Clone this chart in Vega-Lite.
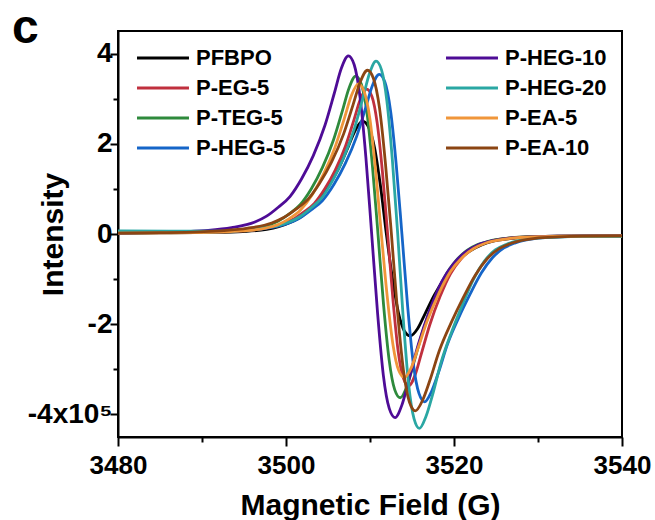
{
  "$schema": "https://vega.github.io/schema/vega-lite/v6.json",
  "autosize": {"type": "none"},
  "padding": {"left": 118, "top": 31, "right": 33, "bottom": 83},
  "width": 504,
  "height": 406,
  "background": "white",
  "title": {"text": "c", "anchor": "start", "frame": "group", "dx": -106, "dy": 60, "offset": 0, "baseline": "alphabetic", "fontSize": 48, "font": "Liberation Sans", "fontWeight": "bold", "color": "black"},
  "config": {
    "view": {"stroke": "black", "strokeWidth": 2},
    "axis": {"grid": false, "domainColor": "black", "domainWidth": 2, "tickColor": "black", "tickWidth": 2, "labelFont": "Liberation Sans", "labelFontWeight": "bold", "labelFontSize": 26, "labelColor": "black", "titleFont": "Liberation Sans", "titleFontWeight": "bold", "titleFontSize": 30, "titleColor": "black", "labelOverlap": false, "labelFlush": false, "labelBound": false}
  },
  "data": {"values": [
    {"s":"PFBPO","x":3480,"y":0.02},{"s":"PFBPO","x":3485,"y":0.025},{"s":"PFBPO","x":3489.15,"y":0.03},{"s":"PFBPO","x":3491.0,"y":0.035},{"s":"PFBPO","x":3494.85,"y":0.055},{"s":"PFBPO","x":3497.7,"y":0.10},{"s":"PFBPO","x":3499.13,"y":0.16},{"s":"PFBPO","x":3500.55,"y":0.26},{"s":"PFBPO","x":3501.98,"y":0.40},{"s":"PFBPO","x":3503.4,"y":0.65},{"s":"PFBPO","x":3504.83,"y":1.00},{"s":"PFBPO","x":3506.25,"y":1.45},{"s":"PFBPO","x":3507.39,"y":1.925},{"s":"PFBPO","x":3508.25,"y":2.30},{"s":"PFBPO","x":3509.1,"y":2.50},{"s":"PFBPO","x":3509.81,"y":2.375},{"s":"PFBPO","x":3510.53,"y":1.925},{"s":"PFBPO","x":3511.24,"y":1.075},{"s":"PFBPO","x":3511.95,"y":0},{"s":"PFBPO","x":3512.66,"y":-0.97},{"s":"PFBPO","x":3513.38,"y":-1.74},{"s":"PFBPO","x":3514.09,"y":-2.15},{"s":"PFBPO","x":3514.8,"y":-2.26},{"s":"PFBPO","x":3515.66,"y":-2.10},{"s":"PFBPO","x":3516.51,"y":-1.785},{"s":"PFBPO","x":3517.65,"y":-1.356},{"s":"PFBPO","x":3519.08,"y":-0.927},{"s":"PFBPO","x":3520.5,"y":-0.588},{"s":"PFBPO","x":3521.93,"y":-0.372},{"s":"PFBPO","x":3523.35,"y":-0.235},{"s":"PFBPO","x":3524.78,"y":-0.154},{"s":"PFBPO","x":3526.2,"y":-0.112},{"s":"PFBPO","x":3529.05,"y":-0.067},{"s":"PFBPO","x":3531.9,"y":-0.051},{"s":"PFBPO","x":3534.75,"y":-0.045},{"s":"PFBPO","x":3540,"y":-0.04},
    {"s":"P-EG-5","x":3480,"y":0.02},{"s":"P-EG-5","x":3486,"y":0.03},{"s":"P-EG-5","x":3492.1,"y":0.046},{"s":"P-EG-5","x":3494.6,"y":0.068},{"s":"P-EG-5","x":3497.1,"y":0.116},{"s":"P-EG-5","x":3499.6,"y":0.22},{"s":"P-EG-5","x":3500.85,"y":0.325},{"s":"P-EG-5","x":3502.1,"y":0.485},{"s":"P-EG-5","x":3503.35,"y":0.674},{"s":"P-EG-5","x":3504.6,"y":0.995},{"s":"P-EG-5","x":3505.85,"y":1.412},{"s":"P-EG-5","x":3507.1,"y":1.958},{"s":"P-EG-5","x":3508.1,"y":2.536},{"s":"P-EG-5","x":3508.85,"y":2.985},{"s":"P-EG-5","x":3509.6,"y":3.21},{"s":"P-EG-5","x":3510.23,"y":3.05},{"s":"P-EG-5","x":3510.85,"y":2.47},{"s":"P-EG-5","x":3511.48,"y":1.38},{"s":"P-EG-5","x":3512.1,"y":0},{"s":"P-EG-5","x":3512.73,"y":-1.449},{"s":"P-EG-5","x":3513.35,"y":-2.595},{"s":"P-EG-5","x":3513.98,"y":-3.20},{"s":"P-EG-5","x":3514.6,"y":-3.37},{"s":"P-EG-5","x":3515.35,"y":-3.134},{"s":"P-EG-5","x":3516.1,"y":-2.662},{"s":"P-EG-5","x":3517.1,"y":-2.022},{"s":"P-EG-5","x":3518.35,"y":-1.382},{"s":"P-EG-5","x":3519.6,"y":-0.876},{"s":"P-EG-5","x":3520.85,"y":-0.549},{"s":"P-EG-5","x":3522.1,"y":-0.34},{"s":"P-EG-5","x":3523.35,"y":-0.215},{"s":"P-EG-5","x":3524.6,"y":-0.148},{"s":"P-EG-5","x":3527.1,"y":-0.08},{"s":"P-EG-5","x":3529.6,"y":-0.057},{"s":"P-EG-5","x":3532.1,"y":-0.047},{"s":"P-EG-5","x":3540,"y":-0.04},
    {"s":"P-TEG-5","x":3480,"y":0.02},{"s":"P-TEG-5","x":3485,"y":0.03},{"s":"P-TEG-5","x":3489.75,"y":0.038},{"s":"P-TEG-5","x":3492.4,"y":0.055},{"s":"P-TEG-5","x":3495.05,"y":0.097},{"s":"P-TEG-5","x":3497.7,"y":0.185},{"s":"P-TEG-5","x":3499.03,"y":0.283},{"s":"P-TEG-5","x":3500.35,"y":0.44},{"s":"P-TEG-5","x":3501.68,"y":0.648},{"s":"P-TEG-5","x":3503.0,"y":0.998},{"s":"P-TEG-5","x":3504.33,"y":1.47},{"s":"P-TEG-5","x":3505.65,"y":2.083},{"s":"P-TEG-5","x":3506.71,"y":2.73},{"s":"P-TEG-5","x":3507.51,"y":3.238},{"s":"P-TEG-5","x":3508.3,"y":3.50},{"s":"P-TEG-5","x":3508.96,"y":3.325},{"s":"P-TEG-5","x":3509.63,"y":2.695},{"s":"P-TEG-5","x":3510.29,"y":1.505},{"s":"P-TEG-5","x":3510.95,"y":0},{"s":"P-TEG-5","x":3511.61,"y":-1.561},{"s":"P-TEG-5","x":3512.28,"y":-2.795},{"s":"P-TEG-5","x":3512.94,"y":-3.449},{"s":"P-TEG-5","x":3513.6,"y":-3.63},{"s":"P-TEG-5","x":3514.4,"y":-3.376},{"s":"P-TEG-5","x":3515.19,"y":-2.868},{"s":"P-TEG-5","x":3516.25,"y":-2.178},{"s":"P-TEG-5","x":3517.58,"y":-1.488},{"s":"P-TEG-5","x":3518.9,"y":-0.944},{"s":"P-TEG-5","x":3520.23,"y":-0.591},{"s":"P-TEG-5","x":3521.55,"y":-0.365},{"s":"P-TEG-5","x":3522.88,"y":-0.23},{"s":"P-TEG-5","x":3524.2,"y":-0.156},{"s":"P-TEG-5","x":3526.85,"y":-0.084},{"s":"P-TEG-5","x":3529.5,"y":-0.058},{"s":"P-TEG-5","x":3532.15,"y":-0.047},{"s":"P-TEG-5","x":3540,"y":-0.04},
    {"s":"P-HEG-5","x":3480,"y":0.02},{"s":"P-HEG-5","x":3486,"y":0.035},{"s":"P-HEG-5","x":3492.2,"y":0.048},{"s":"P-HEG-5","x":3494.9,"y":0.073},{"s":"P-HEG-5","x":3497.6,"y":0.126},{"s":"P-HEG-5","x":3500.3,"y":0.24},{"s":"P-HEG-5","x":3501.65,"y":0.356},{"s":"P-HEG-5","x":3503.0,"y":0.533},{"s":"P-HEG-5","x":3504.35,"y":0.743},{"s":"P-HEG-5","x":3505.7,"y":1.097},{"s":"P-HEG-5","x":3507.05,"y":1.558},{"s":"P-HEG-5","x":3508.4,"y":2.159},{"s":"P-HEG-5","x":3509.48,"y":2.797},{"s":"P-HEG-5","x":3510.29,"y":3.292},{"s":"P-HEG-5","x":3511.1,"y":3.54},{"s":"P-HEG-5","x":3511.78,"y":3.363},{"s":"P-HEG-5","x":3512.45,"y":2.726},{"s":"P-HEG-5","x":3513.13,"y":1.522},{"s":"P-HEG-5","x":3513.8,"y":0},{"s":"P-HEG-5","x":3514.48,"y":-1.60},{"s":"P-HEG-5","x":3515.15,"y":-2.864},{"s":"P-HEG-5","x":3515.83,"y":-3.534},{"s":"P-HEG-5","x":3516.5,"y":-3.72},{"s":"P-HEG-5","x":3517.31,"y":-3.497},{"s":"P-HEG-5","x":3518.12,"y":-3.088},{"s":"P-HEG-5","x":3519.2,"y":-2.455},{"s":"P-HEG-5","x":3520.55,"y":-1.86},{"s":"P-HEG-5","x":3521.9,"y":-1.339},{"s":"P-HEG-5","x":3523.25,"y":-0.866},{"s":"P-HEG-5","x":3524.6,"y":-0.522},{"s":"P-HEG-5","x":3525.95,"y":-0.309},{"s":"P-HEG-5","x":3527.3,"y":-0.196},{"s":"P-HEG-5","x":3530.0,"y":-0.092},{"s":"P-HEG-5","x":3532.7,"y":-0.062},{"s":"P-HEG-5","x":3535.4,"y":-0.047},{"s":"P-HEG-5","x":3540,"y":-0.045},
    {"s":"P-HEG-10","x":3480,"y":0.02},{"s":"P-HEG-10","x":3484,"y":0.035},{"s":"P-HEG-10","x":3487.96,"y":0.052},{"s":"P-HEG-10","x":3490.74,"y":0.079},{"s":"P-HEG-10","x":3493.52,"y":0.139},{"s":"P-HEG-10","x":3496.3,"y":0.265},{"s":"P-HEG-10","x":3497.69,"y":0.395},{"s":"P-HEG-10","x":3499.08,"y":0.593},{"s":"P-HEG-10","x":3500.47,"y":0.83},{"s":"P-HEG-10","x":3501.86,"y":1.225},{"s":"P-HEG-10","x":3503.25,"y":1.738},{"s":"P-HEG-10","x":3504.64,"y":2.41},{"s":"P-HEG-10","x":3505.75,"y":3.12},{"s":"P-HEG-10","x":3506.59,"y":3.674},{"s":"P-HEG-10","x":3507.42,"y":3.95},{"s":"P-HEG-10","x":3508.12,"y":3.753},{"s":"P-HEG-10","x":3508.81,"y":3.04},{"s":"P-HEG-10","x":3509.51,"y":1.70},{"s":"P-HEG-10","x":3510.2,"y":0},{"s":"P-HEG-10","x":3510.9,"y":-1.75},{"s":"P-HEG-10","x":3511.59,"y":-3.134},{"s":"P-HEG-10","x":3512.29,"y":-3.867},{"s":"P-HEG-10","x":3512.98,"y":-4.07},{"s":"P-HEG-10","x":3513.81,"y":-3.785},{"s":"P-HEG-10","x":3514.65,"y":-3.215},{"s":"P-HEG-10","x":3515.76,"y":-2.442},{"s":"P-HEG-10","x":3517.15,"y":-1.669},{"s":"P-HEG-10","x":3518.54,"y":-1.058},{"s":"P-HEG-10","x":3519.93,"y":-0.661},{"s":"P-HEG-10","x":3521.32,"y":-0.407},{"s":"P-HEG-10","x":3522.71,"y":-0.254},{"s":"P-HEG-10","x":3524.1,"y":-0.17},{"s":"P-HEG-10","x":3526.88,"y":-0.089},{"s":"P-HEG-10","x":3529.66,"y":-0.06},{"s":"P-HEG-10","x":3532.44,"y":-0.048},{"s":"P-HEG-10","x":3540,"y":-0.04},
    {"s":"P-HEG-20","x":3480,"y":0.07},{"s":"P-HEG-20","x":3486,"y":0.065},{"s":"P-HEG-20","x":3492.66,"y":0.061},{"s":"P-HEG-20","x":3495.24,"y":0.087},{"s":"P-HEG-20","x":3497.82,"y":0.145},{"s":"P-HEG-20","x":3500.4,"y":0.267},{"s":"P-HEG-20","x":3501.69,"y":0.389},{"s":"P-HEG-20","x":3502.98,"y":0.575},{"s":"P-HEG-20","x":3504.27,"y":0.804},{"s":"P-HEG-20","x":3505.56,"y":1.187},{"s":"P-HEG-20","x":3506.85,"y":1.685},{"s":"P-HEG-20","x":3508.14,"y":2.336},{"s":"P-HEG-20","x":3509.17,"y":3.026},{"s":"P-HEG-20","x":3509.95,"y":3.562},{"s":"P-HEG-20","x":3510.72,"y":3.83},{"s":"P-HEG-20","x":3511.37,"y":3.639},{"s":"P-HEG-20","x":3512.01,"y":2.949},{"s":"P-HEG-20","x":3512.66,"y":1.647},{"s":"P-HEG-20","x":3513.3,"y":0},{"s":"P-HEG-20","x":3513.95,"y":-1.853},{"s":"P-HEG-20","x":3514.59,"y":-3.319},{"s":"P-HEG-20","x":3515.24,"y":-4.095},{"s":"P-HEG-20","x":3515.88,"y":-4.31},{"s":"P-HEG-20","x":3516.65,"y":-4.051},{"s":"P-HEG-20","x":3517.43,"y":-3.577},{"s":"P-HEG-20","x":3518.46,"y":-2.845},{"s":"P-HEG-20","x":3519.75,"y":-2.155},{"s":"P-HEG-20","x":3521.04,"y":-1.552},{"s":"P-HEG-20","x":3522.33,"y":-1.001},{"s":"P-HEG-20","x":3523.62,"y":-0.602},{"s":"P-HEG-20","x":3524.91,"y":-0.353},{"s":"P-HEG-20","x":3526.2,"y":-0.231},{"s":"P-HEG-20","x":3528.78,"y":-0.11},{"s":"P-HEG-20","x":3531.36,"y":-0.076},{"s":"P-HEG-20","x":3533.94,"y":-0.06},{"s":"P-HEG-20","x":3540,"y":-0.06},
    {"s":"P-EA-5","x":3480,"y":0.02},{"s":"P-EA-5","x":3485,"y":0.025},{"s":"P-EA-5","x":3489.35,"y":0.03},{"s":"P-EA-5","x":3492.1,"y":0.04},{"s":"P-EA-5","x":3494.85,"y":0.067},{"s":"P-EA-5","x":3497.6,"y":0.13},{"s":"P-EA-5","x":3498.98,"y":0.203},{"s":"P-EA-5","x":3500.35,"y":0.336},{"s":"P-EA-5","x":3501.73,"y":0.533},{"s":"P-EA-5","x":3503.1,"y":0.866},{"s":"P-EA-5","x":3504.48,"y":1.332},{"s":"P-EA-5","x":3505.85,"y":1.931},{"s":"P-EA-5","x":3506.95,"y":2.564},{"s":"P-EA-5","x":3507.78,"y":3.064},{"s":"P-EA-5","x":3508.6,"y":3.33},{"s":"P-EA-5","x":3509.29,"y":3.164},{"s":"P-EA-5","x":3509.98,"y":2.564},{"s":"P-EA-5","x":3510.66,"y":1.432},{"s":"P-EA-5","x":3511.35,"y":0},{"s":"P-EA-5","x":3512.04,"y":-1.367},{"s":"P-EA-5","x":3512.73,"y":-2.449},{"s":"P-EA-5","x":3513.41,"y":-3.021},{"s":"P-EA-5","x":3514.1,"y":-3.18},{"s":"P-EA-5","x":3514.93,"y":-2.957},{"s":"P-EA-5","x":3515.75,"y":-2.512},{"s":"P-EA-5","x":3516.85,"y":-1.908},{"s":"P-EA-5","x":3518.23,"y":-1.304},{"s":"P-EA-5","x":3519.6,"y":-0.827},{"s":"P-EA-5","x":3520.98,"y":-0.519},{"s":"P-EA-5","x":3522.35,"y":-0.322},{"s":"P-EA-5","x":3523.73,"y":-0.205},{"s":"P-EA-5","x":3525.1,"y":-0.142},{"s":"P-EA-5","x":3527.85,"y":-0.078},{"s":"P-EA-5","x":3530.6,"y":-0.056},{"s":"P-EA-5","x":3533.35,"y":-0.046},{"s":"P-EA-5","x":3540,"y":-0.04},
    {"s":"P-EA-10","x":3480,"y":0.02},{"s":"P-EA-10","x":3485,"y":0.03},{"s":"P-EA-10","x":3489.75,"y":0.049},{"s":"P-EA-10","x":3492.6,"y":0.074},{"s":"P-EA-10","x":3495.45,"y":0.129},{"s":"P-EA-10","x":3498.3,"y":0.245},{"s":"P-EA-10","x":3499.73,"y":0.365},{"s":"P-EA-10","x":3501.15,"y":0.546},{"s":"P-EA-10","x":3502.58,"y":0.762},{"s":"P-EA-10","x":3504.0,"y":1.125},{"s":"P-EA-10","x":3505.43,"y":1.597},{"s":"P-EA-10","x":3506.85,"y":2.214},{"s":"P-EA-10","x":3507.99,"y":2.868},{"s":"P-EA-10","x":3508.85,"y":3.376},{"s":"P-EA-10","x":3509.7,"y":3.63},{"s":"P-EA-10","x":3510.41,"y":3.449},{"s":"P-EA-10","x":3511.13,"y":2.795},{"s":"P-EA-10","x":3511.84,"y":1.561},{"s":"P-EA-10","x":3512.55,"y":0},{"s":"P-EA-10","x":3513.26,"y":-1.686},{"s":"P-EA-10","x":3513.98,"y":-3.018},{"s":"P-EA-10","x":3514.69,"y":-3.724},{"s":"P-EA-10","x":3515.4,"y":-3.92},{"s":"P-EA-10","x":3516.26,"y":-3.685},{"s":"P-EA-10","x":3517.11,"y":-3.254},{"s":"P-EA-10","x":3518.25,"y":-2.587},{"s":"P-EA-10","x":3519.68,"y":-1.96},{"s":"P-EA-10","x":3521.1,"y":-1.411},{"s":"P-EA-10","x":3522.53,"y":-0.912},{"s":"P-EA-10","x":3523.95,"y":-0.549},{"s":"P-EA-10","x":3525.38,"y":-0.324},{"s":"P-EA-10","x":3526.8,"y":-0.205},{"s":"P-EA-10","x":3529.65,"y":-0.095},{"s":"P-EA-10","x":3532.5,"y":-0.064},{"s":"P-EA-10","x":3535.35,"y":-0.048},{"s":"P-EA-10","x":3540,"y":-0.04}
  ]},
  "mark": {"type": "line", "interpolate": "monotone", "strokeWidth": 2.8, "clip": true},
  "encoding": {
    "x": {"field": "x", "type": "quantitative", "scale": {"domain": [3480, 3540], "nice": false, "zero": false},
      "axis": {"title": "Magnetic Field (G)", "values": [3480, 3490, 3500, 3510, 3520, 3530, 3540], "format": "d",
        "labelExpr": "datum.value % 20 === 0 ? datum.label : ''",
        "tickSize": {"condition": {"test": "datum.value % 20 === 0", "value": 9}, "value": 5},
        "labelPadding": 6, "titlePadding": 12}},
    "y": {"field": "y", "type": "quantitative", "scale": {"domain": [-4.5, 4.5], "nice": false, "zero": false},
      "axis": {"title": "Intensity", "values": [-4, -3, -2, -1, 0, 1, 2, 3, 4],
        "labelExpr": "datum.value === -4 ? '-4x10⁵' : (datum.value % 2 === 0 ? (datum.value < 0 ? '-' + abs(datum.value) : '' + datum.value) : '')",
        "tickSize": {"condition": {"test": "datum.value % 2 === 0", "value": 8}, "value": 5},
        "labelFontSize": 28, "labelPadding": -2, "titleX": -50, "titleY": 203, "titleAngle": -90, "titleBaseline": "bottom", "titleAlign": "center"}},
    "color": {"field": "s", "type": "nominal",
      "scale": {"domain": ["PFBPO", "P-EG-5", "P-TEG-5", "P-HEG-5", "P-HEG-10", "P-HEG-20", "P-EA-5", "P-EA-10"],
        "range": ["#000000", "#c0303e", "#2e8a3c", "#1565c8", "#4e0c96", "#2aa7a3", "#f0963a", "#8b4513"]},
      "legend": {"orient": "none", "legendX": 34, "legendY": 16, "columns": 2, "columnPadding": 154, "rowPadding": 8, "padding": 0,
        "title": null, "symbolType": "M-3,0H3", "symbolSize": 300, "symbolStrokeWidth": 3,
        "labelFont": "Liberation Sans", "labelFontSize": 22, "labelFontWeight": "bold", "labelColor": "black", "labelOffset": 22, "labelLimit": 300}}
  }
}
